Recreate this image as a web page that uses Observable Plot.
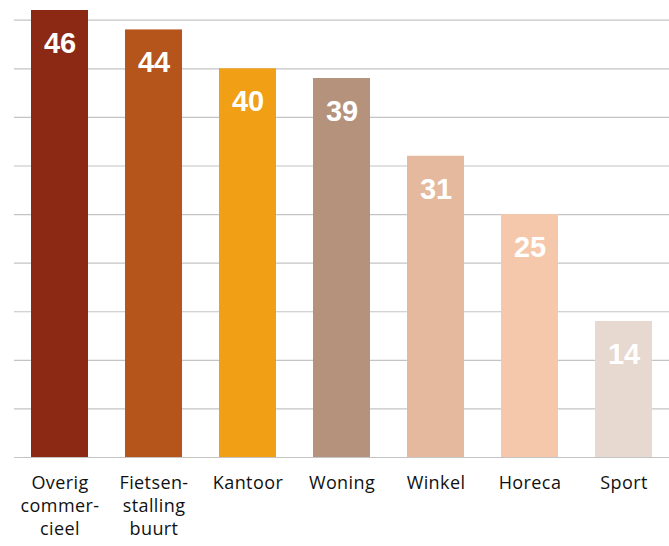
<!DOCTYPE html>
<html>
<head>
<meta charset="utf-8">
<script src="https://cdn.jsdelivr.net/npm/d3@7"></script>
<script src="https://cdn.jsdelivr.net/npm/@observablehq/plot@0.6"></script>
<style>
  html, body { margin: 0; padding: 0; background: #fff; }
  #chart svg { display: block; }
  #chart svg g[font-size="18"] text { letter-spacing: 0.4px; }
</style>
</head>
<body>
<div id="chart"></div>
<script>
const categories = ["Overig\ncommer-\ncieel", "Fietsen-\nstalling\nbuurt", "Kantoor", "Woning", "Winkel", "Horeca", "Sport"];
const values = [46, 44, 40, 39, 31, 25, 14];
const colors = ["#8C2914", "#B5541B", "#F1A015", "#B4927C", "#E4B99E", "#F6C8AB", "#E7D8D0"];
const yTicks = [0, 5, 10, 15, 20, 25, 30, 35, 40, 45];

const data = categories.map((c, i) => ({category: c, value: values[i], color: colors[i]}));

const chart = Plot.plot({
  width: 669,
  height: 546,
  marginLeft: 14,
  marginRight: 0,
  marginTop: 10,
  marginBottom: 89,
  style: {background: "#fff"},
  x: {domain: categories, range: [15, 669], paddingInner: 0.39, paddingOuter: 0.17, axis: null},
  y: {domain: [0, 46], axis: null},
  marks: [
    Plot.gridY(yTicks, {stroke: "#c4c4c4", strokeOpacity: 1, strokeWidth: 1.2}),
    Plot.barY(data, {x: "category", y: "value", fill: "color"}),
    Plot.text(data, {
      x: "category", y: "value", text: d => String(d.value),
      dy: 33, fill: "#fff", fontSize: 29, fontWeight: "bold",
      fontFamily: "Liberation Sans, Arial, sans-serif"
    }),
    Plot.text(data, {
      x: "category", text: "category", frameAnchor: "bottom",
      lineAnchor: "top", dy: 15, lineHeight: 23 / 18,
      fontSize: 18, fill: "#111", fontFamily: "Open Sans, sans-serif"
    })
  ]
});
document.getElementById("chart").appendChild(chart);
</script>
</body>
</html>
